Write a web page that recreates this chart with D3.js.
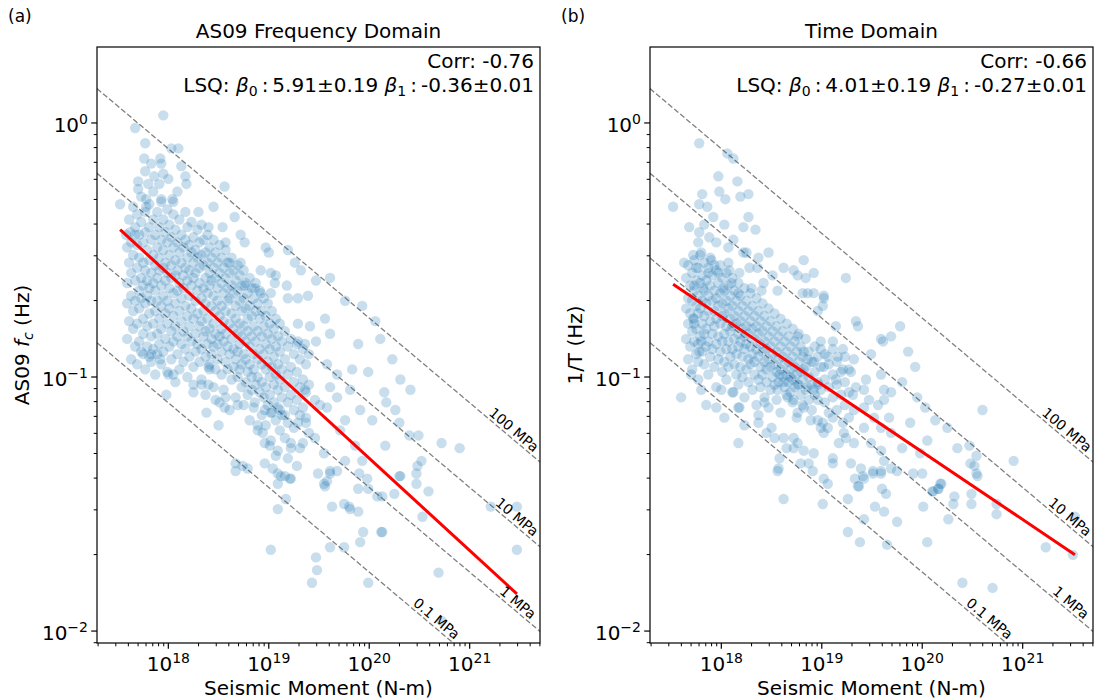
<!DOCTYPE html>
<html>
<head>
<meta charset="utf-8">
<script src="https://cdn.jsdelivr.net/npm/d3@7"></script>
<style>
  body { margin: 0; background: #fff; }
  svg { font-family: "DejaVu Sans", sans-serif; }
</style>
</head>
<body>
<svg id="fig" width="1094" height="700"></svg>
<script>
// values below are log10(M0 [N-m]) and log10(frequency [Hz])

// (a) AS09 frequency domain - scattered points
var fdScatter = [
  [17.95,0.03],[17.67,-0.02],[17.77,-0.08],[18.10,-0.10],[18.03,-0.10],[17.76,-0.14],[17.92,-0.14],[17.93,-0.16],
  [17.83,-0.16],[17.77,-0.19],[17.95,-0.20],[17.86,-0.21],[18.00,-0.22],[18.13,-0.17],[18.17,-0.21],[17.70,-0.23],
  [17.80,-0.24],[17.91,-0.24],[17.70,-0.26],[18.09,-0.27],[18.18,-0.24],[18.56,-0.25],[17.52,-0.32],[17.78,-0.30],
  [17.93,-0.30],[18.04,-0.30],[18.05,-0.31],[17.78,-0.33],[18.30,-0.35],[18.45,-0.33],[18.66,-0.37],[18.40,-0.41],
  [18.54,-0.41],[18.72,-0.44],[18.57,-0.47],[18.76,-0.47],[18.97,-0.49],[19.00,-0.51],[17.62,-0.43],[17.67,-0.44],
  [17.58,-0.44],[18.72,-0.55],[18.61,-0.55],[18.92,-0.58],[19.02,-0.59],[19.07,-0.60],[19.18,-0.64],[19.06,-0.63],
  [18.76,-0.64],[18.86,-0.65],[18.92,-0.67],[19.02,-0.67],[19.19,-0.69],[19.29,-0.69],[19.39,-0.68],
  [19.26,-0.55],[19.32,-0.58],[19.47,-0.62],[19.61,-0.61],[19.19,-0.50],
  [19.29,-0.79],[19.41,-0.80],[19.29,-0.86],[19.36,-0.87],[19.47,-0.86],[19.56,-0.77],[19.61,-0.83],[19.58,-0.95],
  [19.61,-1.04],[19.68,-0.99],[19.36,-1.05],[19.46,-1.09],[19.51,-1.11],[19.58,-1.12],[19.68,-1.08],[19.29,-1.18],
  [19.37,-1.16],[19.46,-1.24],[19.55,-1.30],[19.61,-1.37],[19.58,-1.41],[19.22,-1.26],[19.31,-1.28],[19.19,-1.32],
  [18.96,-1.34],[19.04,-1.36],[19.09,-1.38],[19.16,-1.39],[19.21,-1.40],[18.89,-1.19],[18.94,-1.22],[19.02,-1.25],
  [18.96,-1.26],[19.09,-1.29],[18.86,-1.10],[18.96,-1.13],[19.02,-1.14],[19.11,-1.13],[19.16,-1.15],[18.47,-1.09],
  [18.56,-1.12],[18.69,-1.11],[18.57,-1.08],[18.25,-1.03],[18.33,-1.03],[18.40,-1.03],[18.40,-0.96],[18.41,-0.97],
  [17.75,-0.91],[17.83,-0.91],[17.83,-0.94],[17.92,-0.93],[18.00,-0.99],[18.05,-0.99],
  [18.38,-1.14],[18.50,-1.19],[18.67,-1.34],[18.74,-1.35],[18.79,-1.36],[18.67,-1.37],[17.98,-1.07],
  [19.76,-0.70],[19.93,-0.72],[20.06,-0.78],[19.89,-0.87],[20.11,-0.85],[20.23,-0.93],[19.99,-0.98],[20.31,-1.01],
  [20.41,-1.05],[19.81,-1.05],[19.91,-1.13],[19.76,-1.17],
  [19.71,-1.21],[19.86,-1.27],[20.03,-1.17],[20.16,-1.27],[19.93,-1.33],[19.76,-1.33],[20.26,-1.13],[19.83,-0.97],
  [19.09,-1.42],[19.17,-1.48],[19.09,-1.52],[19.02,-1.68],[19.47,-1.71],[19.48,-1.76],[19.43,-1.81],[19.61,-1.67],
  [19.75,-1.67],[19.91,-1.65],[19.94,-1.61],[20.12,-1.61],[19.99,-1.81],[20.69,-1.77],[21.47,-1.68],[21.47,-1.51],
  [21.21,-1.51],[20.53,-1.55],[20.59,-1.45],[20.47,-1.38],[20.47,-1.42],[20.31,-1.39],[20.25,-1.46],[20.08,-1.47],
  [19.98,-1.40],[19.99,-1.44],[19.90,-1.38],[19.89,-1.44],[19.81,-1.52],[19.89,-1.53],[19.80,-1.51],[19.75,-1.50],
  [19.63,-1.51],[19.56,-1.43],[19.55,-1.42],[19.49,-1.38],[19.61,-1.38],[19.68,-1.37],[19.22,-1.40],[19.12,-1.39],
  [20.72,-1.96],
  [20.15,-1.06],[20.17,-1.10],[20.30,-1.18],[20.40,-1.23],[20.49,-1.23],[20.72,-1.26],[20.90,-1.28],[20.52,-1.33],
  [20.48,-1.35],[20.30,-1.39],[20.13,-1.47],[20.13,-1.61]
];

// (a) dense core, one column of log10(fc) per moment
var fdCore = [
  {m: 17.59, f: [-0.49, -0.63, -0.71, -0.85]},
  {m: 17.61, f: [-0.38, -0.55, -0.78]},
  {m: 17.63, f: [-0.47, -0.59, -0.68, -0.93]},
  {m: 17.65, f: [-0.33, -0.52, -0.74, -0.81]},
  {m: 17.67, f: [-0.41, -0.62, -0.70, -0.88]},
  {m: 17.69, f: [-0.36, -0.48, -0.57, -0.79, -0.95]},
  {m: 17.71, f: [-0.44, -0.53, -0.66, -0.73, -0.86]},
  {m: 17.73, f: [-0.29, -0.39, -0.61, -0.69, -0.90]},
  {m: 17.75, f: [-0.47, -0.55, -0.64, -0.77, -0.83]},
  {m: 17.77, f: [-0.35, -0.43, -0.58, -0.71, -0.97]},
  {m: 17.79, f: [-0.50, -0.62, -0.68, -0.80, -0.88]},
  {m: 17.81, f: [-0.32, -0.41, -0.54, -0.65, -0.75, -0.92]},
  {m: 17.83, f: [-0.46, -0.59, -0.70, -0.84]},
  {m: 17.85, f: [-0.27, -0.38, -0.52, -0.63, -0.79, -0.89]},
  {m: 17.87, f: [-0.44, -0.56, -0.66, -0.74, -0.99]},
  {m: 17.89, f: [-0.35, -0.49, -0.61, -0.70, -0.83, -0.91]},
  {m: 17.91, f: [-0.41, -0.53, -0.58, -0.77, -0.87]},
  {m: 17.93, f: [-0.31, -0.46, -0.64, -0.72, -0.81, -0.95]},
  {m: 17.95, f: [-0.38, -0.50, -0.57, -0.68, -0.90]},
  {m: 17.97, f: [-0.43, -0.55, -0.62, -0.75, -0.85]},
  {m: 17.99, f: [-0.34, -0.47, -0.59, -0.70, -0.79, -0.98]},
  {m: 18.01, f: [-0.40, -0.52, -0.65, -0.73, -0.88]},
  {m: 18.03, f: [-0.45, -0.56, -0.61, -0.82, -0.93]},
  {m: 18.05, f: [-0.36, -0.49, -0.67, -0.76, -0.86]},
  {m: 18.07, f: [-0.42, -0.54, -0.60, -0.71, -0.80, -1.02]},
  {m: 18.09, f: [-0.47, -0.58, -0.66, -0.84, -0.91]},
  {m: 18.11, f: [-0.38, -0.51, -0.63, -0.74, -0.97]},
  {m: 18.13, f: [-0.44, -0.55, -0.69, -0.78, -0.87]},
  {m: 18.15, f: [-0.49, -0.60, -0.65, -0.82, -0.94]},
  {m: 18.17, f: [-0.35, -0.46, -0.57, -0.72, -0.89]},
  {m: 18.19, f: [-0.41, -0.53, -0.62, -0.76, -0.84, -1.00]},
  {m: 18.21, f: [-0.48, -0.58, -0.68, -0.80, -0.92]},
  {m: 18.23, f: [-0.39, -0.51, -0.64, -0.73, -0.86]},
  {m: 18.25, f: [-0.45, -0.55, -0.61, -0.77, -0.96, -1.06]},
  {m: 18.27, f: [-0.50, -0.59, -0.70, -0.83, -0.90]},
  {m: 18.29, f: [-0.42, -0.53, -0.66, -0.75, -0.87]},
  {m: 18.31, f: [-0.47, -0.57, -0.63, -0.80, -0.94]},
  {m: 18.33, f: [-0.40, -0.52, -0.69, -0.78, -0.89, -1.01]},
  {m: 18.35, f: [-0.46, -0.56, -0.65, -0.74, -0.84]},
  {m: 18.37, f: [-0.51, -0.61, -0.71, -0.82, -0.92, -1.07]},
  {m: 18.39, f: [-0.44, -0.55, -0.67, -0.77, -0.87]},
  {m: 18.41, f: [-0.49, -0.59, -0.64, -0.81, -0.95]},
  {m: 18.43, f: [-0.53, -0.62, -0.72, -0.85, -0.91]},
  {m: 18.45, f: [-0.46, -0.57, -0.68, -0.79, -0.88, -1.04]},
  {m: 18.47, f: [-0.51, -0.61, -0.74, -0.83, -0.97]},
  {m: 18.49, f: [-0.55, -0.65, -0.70, -0.87, -0.93]},
  {m: 18.51, f: [-0.48, -0.59, -0.76, -0.84, -1.10]},
  {m: 18.53, f: [-0.53, -0.63, -0.72, -0.81, -0.90, -0.99]},
  {m: 18.55, f: [-0.57, -0.67, -0.78, -0.86, -1.05]},
  {m: 18.57, f: [-0.50, -0.61, -0.74, -0.83, -0.94]},
  {m: 18.59, f: [-0.55, -0.65, -0.70, -0.88, -0.97]},
  {m: 18.61, f: [-0.59, -0.69, -0.79, -0.91, -1.13]},
  {m: 18.63, f: [-0.53, -0.64, -0.75, -0.85, -1.01]},
  {m: 18.65, f: [-0.58, -0.67, -0.81, -0.89, -0.96]},
  {m: 18.67, f: [-0.62, -0.72, -0.77, -0.93, -1.08]},
  {m: 18.69, f: [-0.56, -0.66, -0.83, -0.90, -1.00]},
  {m: 18.71, f: [-0.60, -0.70, -0.79, -0.87, -0.97]},
  {m: 18.73, f: [-0.64, -0.74, -0.84, -0.95, -1.04]},
  {m: 18.75, f: [-0.58, -0.69, -0.80, -0.91, -1.11]},
  {m: 18.77, f: [-0.63, -0.73, -0.86, -0.93, -1.02]},
  {m: 18.79, f: [-0.67, -0.77, -0.82, -0.98, -1.07]},
  {m: 18.81, f: [-0.61, -0.72, -0.88, -0.95, -1.17]},
  {m: 18.83, f: [-0.65, -0.76, -0.84, -1.00, -1.05]},
  {m: 18.85, f: [-0.69, -0.80, -0.91, -0.97, -1.12]},
  {m: 18.87, f: [-0.63, -0.74, -0.86, -1.03]},
  {m: 18.89, f: [-0.71, -0.82, -0.93, -1.00, -1.21]},
  {m: 18.91, f: [-0.66, -0.77, -0.89, -1.06]},
  {m: 18.93, f: [-0.74, -0.84, -0.95, -1.02, -1.15]},
  {m: 18.95, f: [-0.69, -0.80, -0.91, -1.08]},
  {m: 18.97, f: [-0.76, -0.87, -0.97, -1.04, -1.19]},
  {m: 18.99, f: [-0.71, -0.83, -0.94, -1.11]},
  {m: 19.01, f: [-0.79, -0.89, -1.00, -1.07, -1.27]},
  {m: 19.03, f: [-0.74, -0.85, -0.96, -1.14]},
  {m: 19.05, f: [-0.81, -0.92, -1.03, -1.10]},
  {m: 19.07, f: [-0.77, -0.88, -0.99, -1.17, -1.31]},
  {m: 19.09, f: [-0.84, -0.95, -1.05, -1.12]},
  {m: 19.11, f: [-0.79, -0.90, -1.01, -1.21]},
  {m: 19.13, f: [-0.86, -0.97, -1.08, -1.15]},
  {m: 19.16, f: [-0.82, -0.93, -1.04, -1.24]},
  {m: 19.19, f: [-0.88, -0.99, -1.10, -1.18]},
  {m: 19.22, f: [-0.85, -0.96, -1.07, -1.28]},
  {m: 19.25, f: [-0.91, -1.02, -1.13, -1.20]},
  {m: 19.28, f: [-0.87, -0.98, -1.09, -1.35]},
  {m: 19.31, f: [-0.93, -1.04, -1.15]},
  {m: 19.34, f: [-0.89, -1.01, -1.12, -1.26]},
  {m: 19.37, f: [-0.95, -1.06, -1.18]},
  {m: 19.40, f: [-0.91, -1.03, -1.22]}
];

// (b) time domain - scattered points
var tdScatter = [
  [17.78,-0.08],[18.06,-0.12],[18.12,-0.14],[17.97,-0.21],[18.16,-0.23],[17.98,-0.27],[18.04,-0.30],[18.19,-0.29],
  [18.27,-0.28],[17.81,-0.28],[17.78,-0.32],[17.86,-0.33],[17.52,-0.33],[17.92,-0.37],[18.27,-0.37],[17.68,-0.41],
  [17.83,-0.40],[18.03,-0.40],[18.22,-0.41],[18.34,-0.42],[17.78,-0.43],[17.77,-0.47],[17.88,-0.45],[17.95,-0.47],
  [18.12,-0.46],[18.07,-0.49],[17.72,-0.52],[17.80,-0.51],[18.22,-0.51],[18.25,-0.51],[18.37,-0.53],[18.47,-0.51],
  [17.63,-0.55],[17.75,-0.57],[17.90,-0.54],[17.93,-0.56],[18.07,-0.55],[17.97,-0.59],[17.87,-0.59],[18.10,-0.63],
  [18.08,-0.58],[18.28,-0.57],[18.36,-0.57],[18.18,-0.59],[18.62,-0.57],[18.72,-0.58],[18.82,-0.54],[18.92,-0.59],
  [18.84,-0.61],[18.76,-0.60],[19.24,-0.61],[18.51,-0.60],[18.42,-0.63],[17.73,-0.64],[17.82,-0.65],[18.02,-0.65],
  [18.17,-0.67],[18.30,-0.65],[18.40,-0.66],[18.56,-0.66],[18.81,-0.67],[18.86,-0.67],[18.92,-0.67],[19.02,-0.68],
  [17.72,-0.77],[17.73,-0.79],[17.80,-0.86],[17.78,-0.90],[17.77,-0.94],[17.70,-0.99],[17.60,-1.08],[17.80,-1.05],
  [17.85,-1.11],[17.95,-1.12],[18.03,-1.16],[18.00,-1.05],[18.12,-1.06],[18.17,-1.12],[18.18,-1.12],[18.23,-1.19],
  [18.17,-1.26],[18.37,-1.15],[18.43,-1.10],[18.37,-1.18],[18.45,-1.22],[18.53,-1.24],[18.50,-1.20],[18.62,-1.24],
  [18.65,-1.28],[18.58,-1.32],[18.57,-1.36],[18.72,-1.24],[18.72,-1.28],[18.76,-1.26],[18.82,-1.29],[18.79,-1.34],
  [18.87,-1.34],[18.92,-1.30],[18.91,-1.37],[19.02,-1.40],[19.06,-1.42],[19.11,-1.32],[19.11,-1.34],[19.29,-1.34],
  [19.39,-1.36],[19.42,-1.40],[19.36,-1.43],[19.51,-1.37],[19.59,-1.37],[19.62,-1.33],[19.59,-1.29],[19.69,-1.36],
  [19.49,-1.26],[19.32,-1.26],[19.24,-1.24],[19.17,-1.26],[18.99,-1.20],[19.01,-1.18],[19.06,-1.20],[19.02,-1.22],
  [19.11,-1.16],[19.21,-1.18],[19.22,-1.22],[19.42,-1.20],[19.52,-1.16],[19.59,-1.20],[19.67,-1.16],[19.69,-1.22],
  [19.32,-1.13],[19.42,-1.12],[19.47,-1.09],[19.56,-1.11],[19.62,-1.09],[19.34,-0.78],[19.36,-0.80],[19.59,-0.85],
  [19.61,-0.86],[19.69,-0.84],[19.49,-0.91],[19.59,-0.99],[19.62,-1.05],[19.69,-1.06],[19.44,-1.01],[19.34,-1.04],
  [19.31,-1.07],[19.42,-1.05],[19.32,-0.93],[19.21,-0.97],[19.29,-0.98],[19.14,-1.01],[19.14,-0.80],[19.11,-0.86],
  [19.21,-0.89],[19.16,-0.92],[19.06,-0.92],[18.99,-0.89],[19.02,-0.96],[18.96,-0.74],[19.02,-0.69],[19.01,-0.72],
  [18.76,-0.84],[18.82,-0.90],[18.86,-0.93],[18.92,-0.94],[18.82,-0.97],[18.69,-1.00],[18.76,-1.03],[18.86,-1.04],
  [18.92,-1.05],[18.96,-1.03],[18.66,-1.08],[18.72,-1.09],[18.82,-1.12],[18.96,-1.09],[18.56,-1.05],[18.62,-1.02],
  [18.58,-0.99],[18.76,-1.14],[18.89,-1.17],
  [18.56,-1.37],[18.62,-1.48],[19.01,-1.50],[19.26,-1.48],[19.26,-1.61],[19.38,-1.65],[19.33,-1.40],[19.37,-1.43],
  [19.41,-1.39],[19.51,-1.38],[19.59,-1.38],[19.60,-1.44],[19.64,-1.46],[19.53,-1.51],[19.62,-1.53],[19.42,-1.56],
  [19.75,-1.57],[19.65,-1.66],[19.75,-1.37],[19.91,-1.38],[20.00,-1.38],[20.01,-1.51],[20.05,-1.65],[20.10,-1.45],
  [20.16,-1.44],[20.19,-1.42],[20.26,-1.56],[20.31,-1.50],[20.32,-1.47],[20.49,-1.46],[20.49,-1.50],[20.55,-1.39],
  [20.74,-1.50],[20.74,-1.54],[20.40,-1.81],[20.70,-1.83],[21.23,-1.67],[21.50,-1.70],[21.52,-1.55],
  [20.13,-1.17],[20.60,-1.13],[20.47,-1.27],[20.54,-1.31],[20.48,-1.34],[20.52,-1.35],[20.54,-1.38],[20.91,-1.33],
  [20.18,-1.42],[20.11,-1.45],[20.16,-1.44],
  [19.78,-0.80],[19.86,-0.90],[19.93,-0.96],[19.80,-1.02],[19.95,-1.08],[20.03,-1.12],[19.88,-1.18],[20.05,-1.25],
  [19.80,-1.28],[19.98,-1.30],[20.25,-1.20],[20.35,-1.28]
];

// (b) dense core
var tdCore = [
  {m: 17.65, f: [-0.61, -0.73, -0.85]},
  {m: 17.67, f: [-0.56, -0.69, -0.79, -0.93]},
  {m: 17.69, f: [-0.64, -0.75, -0.88]},
  {m: 17.71, f: [-0.59, -0.70, -0.82, -0.97]},
  {m: 17.73, f: [-0.54, -0.66, -0.77, -0.86]},
  {m: 17.75, f: [-0.62, -0.72, -0.81, -0.91]},
  {m: 17.77, f: [-0.57, -0.68, -0.75, -0.87, -1.01]},
  {m: 17.79, f: [-0.52, -0.63, -0.73, -0.84]},
  {m: 17.81, f: [-0.60, -0.70, -0.79, -0.90]},
  {m: 17.83, f: [-0.55, -0.66, -0.76, -0.83, -0.95]},
  {m: 17.85, f: [-0.62, -0.71, -0.81, -0.88]},
  {m: 17.87, f: [-0.57, -0.68, -0.74, -0.86, -0.99]},
  {m: 17.89, f: [-0.53, -0.64, -0.78, -0.92]},
  {m: 17.91, f: [-0.60, -0.70, -0.83, -0.89]},
  {m: 17.93, f: [-0.66, -0.74, -0.80, -0.96]},
  {m: 17.95, f: [-0.58, -0.69, -0.77, -0.87, -1.04]},
  {m: 17.97, f: [-0.63, -0.72, -0.84, -0.93]},
  {m: 17.99, f: [-0.56, -0.67, -0.79, -0.90]},
  {m: 18.01, f: [-0.61, -0.71, -0.76, -0.86, -0.98]},
  {m: 18.03, f: [-0.66, -0.75, -0.83, -0.94]},
  {m: 18.05, f: [-0.59, -0.70, -0.80, -0.89, -1.01]},
  {m: 18.07, f: [-0.64, -0.73, -0.86, -0.96]},
  {m: 18.09, f: [-0.68, -0.77, -0.82, -0.92]},
  {m: 18.11, f: [-0.61, -0.72, -0.80, -0.89, -1.06]},
  {m: 18.13, f: [-0.66, -0.76, -0.85, -0.95]},
  {m: 18.15, f: [-0.70, -0.79, -0.91, -0.99]},
  {m: 18.17, f: [-0.63, -0.74, -0.83, -0.88, -1.03]},
  {m: 18.19, f: [-0.68, -0.78, -0.86, -0.96]},
  {m: 18.21, f: [-0.72, -0.81, -0.92, -1.00]},
  {m: 18.23, f: [-0.65, -0.76, -0.84, -0.89, -1.08]},
  {m: 18.25, f: [-0.70, -0.80, -0.87, -0.97]},
  {m: 18.27, f: [-0.74, -0.83, -0.93, -1.02]},
  {m: 18.29, f: [-0.67, -0.78, -0.88, -0.95]},
  {m: 18.31, f: [-0.72, -0.81, -0.91, -1.05]},
  {m: 18.33, f: [-0.76, -0.85, -0.94, -0.99]},
  {m: 18.35, f: [-0.69, -0.80, -0.89, -1.11]},
  {m: 18.37, f: [-0.74, -0.83, -0.92, -1.01]},
  {m: 18.39, f: [-0.78, -0.87, -0.96, -1.04]},
  {m: 18.41, f: [-0.71, -0.82, -0.90, -0.99]},
  {m: 18.43, f: [-0.76, -0.86, -0.94, -1.08]},
  {m: 18.45, f: [-0.80, -0.89, -0.97, -1.02]},
  {m: 18.47, f: [-0.73, -0.84, -0.93, -1.12]},
  {m: 18.49, f: [-0.78, -0.88, -0.96, -1.05]},
  {m: 18.51, f: [-0.82, -0.91, -1.00]},
  {m: 18.53, f: [-0.75, -0.86, -0.95, -1.03]},
  {m: 18.55, f: [-0.80, -0.90, -0.98, -1.09]},
  {m: 18.57, f: [-0.84, -0.93, -1.02]},
  {m: 18.59, f: [-0.77, -0.88, -0.97, -1.14]},
  {m: 18.61, f: [-0.82, -0.92, -1.00]},
  {m: 18.63, f: [-0.86, -0.95, -1.04]},
  {m: 18.65, f: [-0.79, -0.90, -0.99, -1.07]},
  {m: 18.67, f: [-0.84, -0.94, -1.02]},
  {m: 18.69, f: [-0.88, -0.97, -1.06]},
  {m: 18.71, f: [-0.81, -0.92, -1.01, -1.10]},
  {m: 18.73, f: [-0.86, -0.96, -1.04]},
  {m: 18.75, f: [-0.90, -0.99, -1.16]},
  {m: 18.77, f: [-0.83, -0.94, -1.03]},
  {m: 18.79, f: [-0.88, -0.98, -1.07]},
  {m: 18.81, f: [-0.92, -1.01, -1.11]},
  {m: 18.84, f: [-0.85, -0.96, -1.05]},
  {m: 18.87, f: [-0.90, -1.00, -1.09]},
  {m: 18.90, f: [-0.94, -1.03, -1.13]},
  {m: 18.93, f: [-0.88, -0.98, -1.07]},
  {m: 18.96, f: [-0.92, -1.02, -1.17]},
  {m: 18.99, f: [-0.86, -0.96, -1.05]},
  {m: 19.03, f: [-0.91, -1.01, -1.10]},
  {m: 19.07, f: [-0.95, -1.04, -1.14]},
  {m: 19.11, f: [-0.89, -0.99, -1.08]},
  {m: 19.15, f: [-0.94, -1.03, -1.13]},
  {m: 19.19, f: [-0.98, -1.07]},
  {m: 19.23, f: [-0.92, -1.02, -1.11]},
  {m: 19.27, f: [-0.97, -1.06, -1.16]}
];

// red regression lines as drawn: log10(y) = b0 + b1*log10(M0)
var fdFit = [5.94, -0.363];
var tdFit = [4.025, -0.266];

// constant stress-drop lines (Brune), beta in m/s, stress drop in Pa
var shearVelocity = 3500;
var stressDrops = [100e6, 10e6, 1e6, 0.1e6];
var stressLabels = ['100 MPa', '10 MPa', '1 MPa', '0.1 MPa'];
var stressLabelLogM0 = [21.39, 21.42, 21.43, 20.62];

var xTickExps = [18, 19, 20, 21];
var yTickExps = [-2, -1, 0];

var svg = d3.select('#fig');
var axTop = 47, axBottom = 643;
var h = axBottom - axTop;
var fs = 20, fsSmall = 14;

var panels = [
  { left: 97, right: 540, letter: '(a)', letterX: 8, title: 'AS09 Frequency Domain',
    corr: 'Corr: -0.76', b0: '5.91\u00b10.19', b1: '-0.36\u00b10.01', fit: fdFit,
    scatter: fdScatter, core: fdCore, ylab: 'fc' },
  { left: 650, right: 1093, letter: '(b)', letterX: 561, title: 'Time Domain',
    corr: 'Corr: -0.66', b0: '4.01\u00b10.19', b1: '-0.27\u00b10.01', fit: tdFit,
    scatter: tdScatter, core: tdCore, ylab: 'T' }
];

function expand(scatter, core) {
  var pts = scatter.map(function(d) { return { m: Math.pow(10, d[0]), v: Math.pow(10, d[1]) }; });
  core.forEach(function(c) {
    c.f.forEach(function(f) { pts.push({ m: Math.pow(10, c.m), v: Math.pow(10, f) }); });
  });
  return pts;
}

function powLabel(sel, exp) {
  sel.append('tspan').text('10');
  sel.append('tspan').attr('dy', -8).attr('font-size', fsSmall)
    .text(exp < 0 ? '\u2212' + (-exp) : String(exp));
}

function brune(m0, ds) {
  return 0.37 * shearVelocity * Math.cbrt(16 * ds / (7 * m0));
}

panels.forEach(function(p, idx) {
  var w = p.right - p.left;
  var g = svg.append('g').attr('transform', 'translate(' + p.left + ',' + axTop + ')');

  var x = d3.scaleLog().domain([Math.pow(10, 17.29), Math.pow(10, 21.70)]).range([0, w]);
  var y = d3.scaleLog().domain([Math.pow(10, -2.047), Math.pow(10, 0.299)]).range([h, 0]);

  g.append('clipPath').attr('id', 'clip' + idx)
    .append('rect').attr('width', w).attr('height', h);
  var plot = g.append('g').attr('clip-path', 'url(#clip' + idx + ')');

  // stress drop lines
  var xd = x.domain();
  stressDrops.forEach(function(ds) {
    plot.append('line')
      .attr('x1', x(xd[0])).attr('y1', y(brune(xd[0], ds)))
      .attr('x2', x(xd[1])).attr('y2', y(brune(xd[1], ds)))
      .attr('stroke', '#808080').attr('stroke-width', 1.3)
      .attr('stroke-dasharray', '5.5,2.4');
  });

  // scatter
  var pts = expand(p.scatter, p.core);
  plot.selectAll('circle.pt').data(pts).enter().append('circle')
    .attr('class', 'pt')
    .attr('cx', function(d) { return x(d.m); })
    .attr('cy', function(d) { return y(d.v); })
    .attr('r', 5.2)
    .attr('fill', '#1f77b4')
    .attr('fill-opacity', 0.24);

  // regression line across the data range
  var ext = d3.extent(pts, function(d) { return d.m; });
  var fitPts = ext.map(function(m) { return { m: m, v: Math.pow(10, p.fit[0] + p.fit[1] * Math.log10(m)) }; });
  plot.append('path')
    .datum(fitPts)
    .attr('d', d3.line().x(function(d) { return x(d.m); }).y(function(d) { return y(d.v); }))
    .attr('stroke', 'red').attr('stroke-width', 3).attr('fill', 'none');

  // stress drop labels
  stressDrops.forEach(function(ds, i) {
    var m = Math.pow(10, stressLabelLogM0[i]);
    var m2 = m * 1.5;
    var px = x(m), py = y(brune(m, ds));
    var ang = Math.atan2(y(brune(m2, ds)) - py, x(m2) - px) * 180 / Math.PI;
    g.append('text')
      .attr('transform', 'translate(' + px + ',' + py + ') rotate(' + ang + ')')
      .attr('y', -3)
      .attr('text-anchor', 'middle')
      .attr('font-size', 14)
      .text(stressLabels[i]);
  });

  // spines
  g.append('rect').attr('width', w).attr('height', h)
    .attr('fill', 'none').attr('stroke', '#000').attr('stroke-width', 1.2);

  // x ticks
  var xMinor = [];
  for (var k = 17; k <= 21; k++) {
    for (var j = 2; j <= 9; j++) {
      var v = j * Math.pow(10, k);
      if (v > xd[0] && v < xd[1]) xMinor.push(v);
    }
  }
  g.selectAll('line.xminor').data(xMinor).enter().append('line')
    .attr('x1', function(d) { return x(d); }).attr('x2', function(d) { return x(d); })
    .attr('y1', h).attr('y2', h + 3.3).attr('stroke', '#000').attr('stroke-width', 1);
  xTickExps.forEach(function(e) {
    var tx = x(Math.pow(10, e));
    g.append('line').attr('x1', tx).attr('x2', tx).attr('y1', h).attr('y2', h + 5.8)
      .attr('stroke', '#000').attr('stroke-width', 1.2);
    var t = g.append('text').attr('x', tx).attr('y', h + 28)
      .attr('text-anchor', 'middle').attr('font-size', fs);
    powLabel(t, e);
  });

  // y ticks
  var yd = y.domain();
  var yMinor = [];
  for (var k2 = -3; k2 <= 0; k2++) {
    for (var j2 = 2; j2 <= 9; j2++) {
      var v2 = j2 * Math.pow(10, k2);
      if (v2 > yd[0] && v2 < yd[1]) yMinor.push(v2);
    }
  }
  g.selectAll('line.yminor').data(yMinor).enter().append('line')
    .attr('y1', function(d) { return y(d); }).attr('y2', function(d) { return y(d); })
    .attr('x1', 0).attr('x2', -3.3).attr('stroke', '#000').attr('stroke-width', 1);
  yTickExps.forEach(function(e) {
    var ty = y(Math.pow(10, e));
    g.append('line').attr('y1', ty).attr('y2', ty).attr('x1', 0).attr('x2', -5.8)
      .attr('stroke', '#000').attr('stroke-width', 1.2);
    var t = g.append('text').attr('x', -9).attr('y', ty + 9)
      .attr('text-anchor', 'end').attr('font-size', fs);
    powLabel(t, e);
  });

  // axis labels
  g.append('text').attr('x', w / 2).attr('y', h + 52)
    .attr('text-anchor', 'middle').attr('font-size', fs)
    .text('Seismic Moment (N-m)');

  var yl = g.append('text')
    .attr('transform', 'translate(' + (-68) + ',' + (h / 2) + ') rotate(-90)')
    .attr('text-anchor', 'middle').attr('font-size', fs);
  if (p.ylab === 'fc') {
    yl.append('tspan').text('AS09 ');
    yl.append('tspan').attr('font-style', 'italic').text('f');
    yl.append('tspan').attr('font-style', 'italic').attr('dy', 4).attr('font-size', fsSmall).text('c');
    yl.append('tspan').attr('dy', -4).text(' (Hz)');
  } else {
    yl.text('1/T (Hz)');
  }

  // title and panel letter
  g.append('text').attr('x', w / 2).attr('y', -9)
    .attr('text-anchor', 'middle').attr('font-size', fs).text(p.title);
  svg.append('text').attr('x', p.letterX).attr('y', 22)
    .attr('font-size', 17).text(p.letter);

  // stats annotation
  g.append('text').attr('x', w - 6).attr('y', 21)
    .attr('text-anchor', 'end').attr('font-size', fs).text(p.corr);
  var ann = g.append('text').attr('x', w - 6).attr('y', 45)
    .attr('text-anchor', 'end').attr('font-size', fs);
  ann.append('tspan').text('LSQ: ');
  ann.append('tspan').attr('font-style', 'italic').text('\u03b2');
  ann.append('tspan').attr('dy', 4).attr('font-size', fsSmall).text('0');
  ann.append('tspan').attr('dy', -4).text('\u2009:\u2009' + p.b0 + ' ');
  ann.append('tspan').attr('font-style', 'italic').text('\u03b2');
  ann.append('tspan').attr('dy', 4).attr('font-size', fsSmall).text('1');
  ann.append('tspan').attr('dy', -4).text('\u2009:\u2009' + p.b1);
});
</script>
</body>
</html>
